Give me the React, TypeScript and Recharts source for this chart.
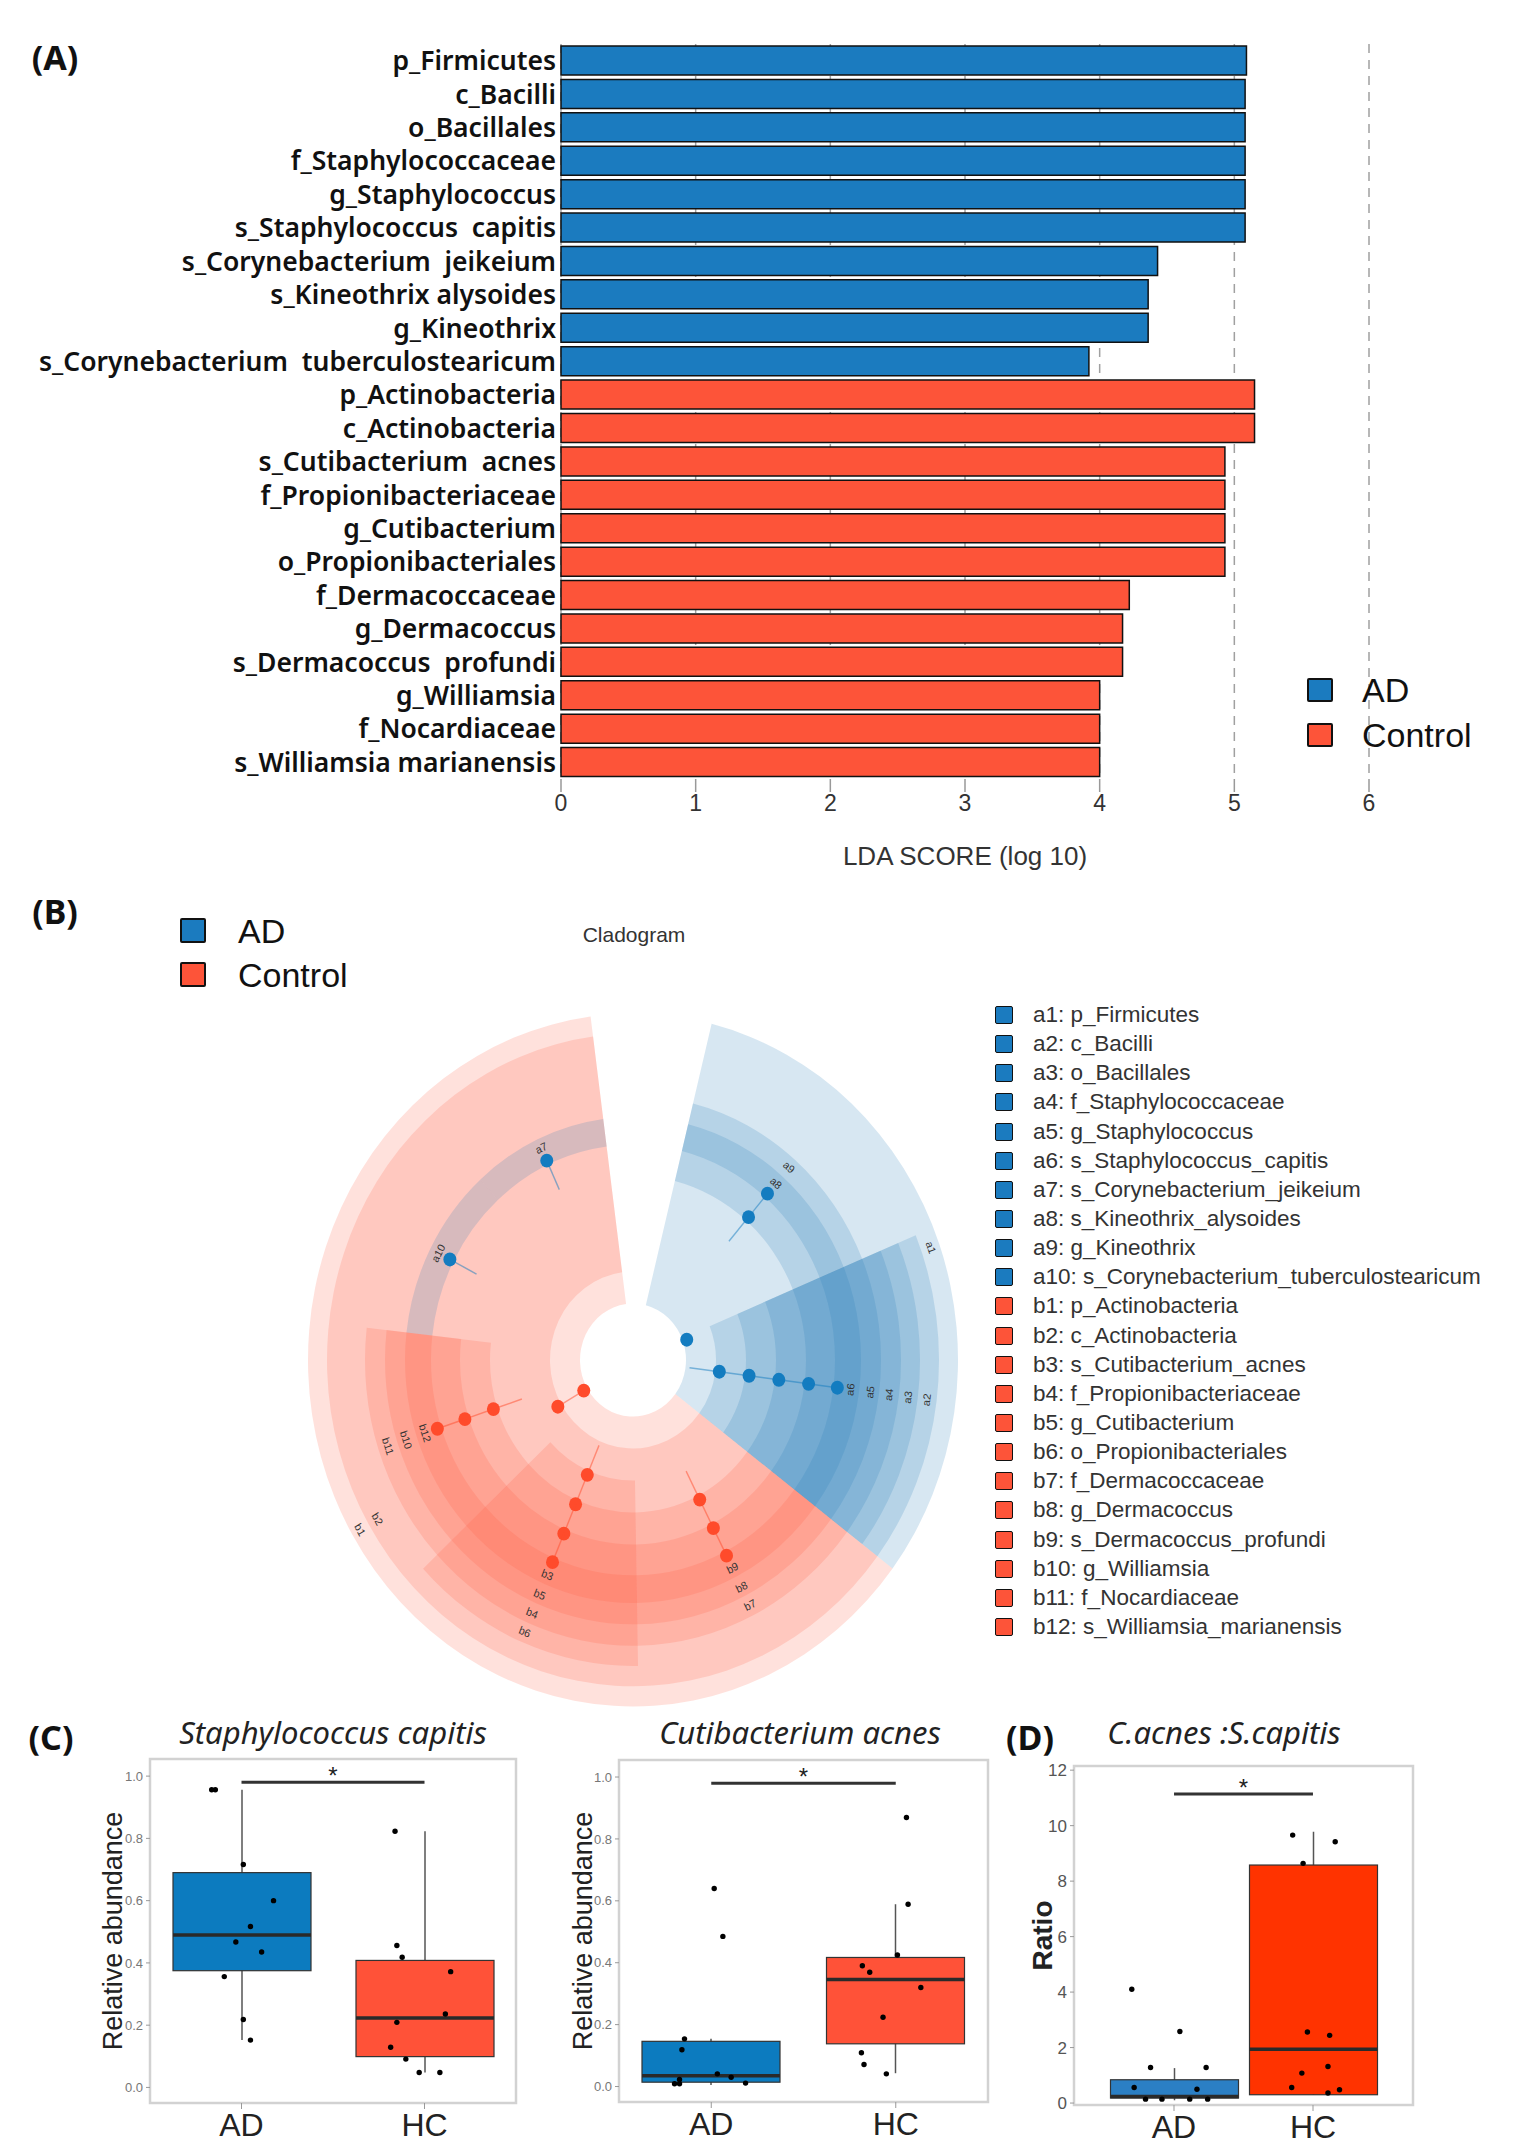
import React from 'react';
import {
  BarChart,
  Bar,
  XAxis,
  YAxis,
  CartesianGrid,
  Cell,
  PieChart,
  Pie,
  ComposedChart,
  Scatter,
  ReferenceLine,
  ReferenceArea,
} from 'recharts';

// ---------- (A) LEfSe LDA scores ----------
const taxa = [
  'p_Firmicutes', 'c_Bacilli', 'o_Bacillales', 'f_Staphylococcaceae', 'g_Staphylococcus',
  's_Staphylococcus  capitis', 's_Corynebacterium  jeikeium', 's_Kineothrix alysoides', 'g_Kineothrix',
  's_Corynebacterium  tuberculostearicum', 'p_Actinobacteria', 'c_Actinobacteria', 's_Cutibacterium  acnes',
  'f_Propionibacteriaceae', 'g_Cutibacterium', 'o_Propionibacteriales', 'f_Dermacoccaceae', 'g_Dermacoccus',
  's_Dermacoccus  profundi', 'g_Williamsia', 'f_Nocardiaceae', 's_Williamsia marianensis',
];
const ldaScores = [
  5.09, 5.08, 5.08, 5.08, 5.08, 5.08, 4.43, 4.36, 4.36, 3.92,
  5.15, 5.15, 4.93, 4.93, 4.93, 4.93, 4.22, 4.17, 4.17, 4.0, 4.0, 4.0,
];
const enrichedIn = [
  'AD', 'AD', 'AD', 'AD', 'AD', 'AD', 'AD', 'AD', 'AD', 'AD',
  'Control', 'Control', 'Control', 'Control', 'Control', 'Control',
  'Control', 'Control', 'Control', 'Control', 'Control', 'Control',
];
const ldaTicks = [0, 1, 2, 3, 4, 5, 6];

// ---------- (B) cladogram ----------
const cladeCodes = ['a1', 'a2', 'a3', 'a4', 'a5', 'a6', 'a7', 'a8', 'a9', 'a10',
  'b1', 'b2', 'b3', 'b4', 'b5', 'b6', 'b7', 'b8', 'b9', 'b10', 'b11', 'b12'];
const cladeNames = [
  'p_Firmicutes', 'c_Bacilli', 'o_Bacillales', 'f_Staphylococcaceae', 'g_Staphylococcus',
  's_Staphylococcus_capitis', 's_Corynebacterium_jeikeium', 's_Kineothrix_alysoides', 'g_Kineothrix',
  's_Corynebacterium_tuberculostearicum', 'p_Actinobacteria', 'c_Actinobacteria', 's_Cutibacterium_acnes',
  'f_Propionibacteriaceae', 'g_Cutibacterium', 'o_Propionibacteriales', 'f_Dermacoccaceae', 'g_Dermacoccus',
  's_Dermacoccus_profundi', 'g_Williamsia', 'f_Nocardiaceae', 's_Williamsia_marianensis',
];
// angular share of each clade per taxonomic level (clockwise from top, '' = not significant)
const phylumCodes = ['', 'a1', 'b1', ''];
const phylumSpans = [14, 113, 225.5, 7.5];
const classCodes = ['', 'a2', 'b2', ''];
const classSpans = [67.5, 59.5, 225.5, 7.5];
const orderCodes = ['', 'a3', '', 'b6', ''];
const orderSpans = [67.5, 59.5, 52, 48, 133];
const familyCodes = ['', 'a4', 'b7', 'b4', 'b11', ''];
const familySpans = [67.5, 59.5, 52, 48, 49.5, 83.5];
const genusCodes = ['', 'a9', 'a5', 'b8', 'b5', 'b10', ''];
const genusSpans = [14, 53.5, 59.5, 52, 48, 49.5, 83.5];
const speciesCodes = ['', 'a8', 'a6', 'b9', 'b3', 'b12', 'a10', 'a7', ''];
const speciesSpans = [14, 53.5, 59.5, 52, 48, 49.5, 41.5, 34.5, 7.5];

// ---------- (C)/(D) box plots ----------
const groups = ['AD', 'HC'];

const capitisQ1 = [0.375, 0.099];
const capitisMedian = [0.49, 0.223];
const capitisQ3 = [0.69, 0.408];
const capitisLow = [0.152, 0.048];
const capitisHigh = [0.956, 0.823];
const capitisAD = [0.956, 0.956, 0.716, 0.6, 0.517, 0.467, 0.435, 0.356, 0.218, 0.152];
const capitisADJitter = [-0.163, -0.143, 0.01, 0.175, 0.049, -0.031, 0.11, -0.094, 0.01, 0.049];
const capitisHC = [0.823, 0.456, 0.418, 0.372, 0.236, 0.209, 0.129, 0.091, 0.048, 0.048];
const capitisHCJitter = [-0.161, -0.151, -0.122, 0.143, 0.114, -0.151, -0.185, -0.102, -0.029, 0.084];

const acnesQ1 = [0.014, 0.138];
const acnesMedian = [0.035, 0.346];
const acnesQ3 = [0.146, 0.417];
const acnesLow = [0.005, 0.043];
const acnesHigh = [0.154, 0.589];
const acnesAD = [0.64, 0.485, 0.154, 0.119, 0.041, 0.03, 0.023, 0.009, 0.009, 0.011];
const acnesADJitter = [0.016, 0.063, -0.145, -0.159, 0.033, 0.108, -0.172, -0.172, -0.199, 0.186];
const acnesHC = [0.869, 0.589, 0.425, 0.39, 0.369, 0.32, 0.224, 0.109, 0.071, 0.041];
const acnesHCJitter = [0.058, 0.067, 0.009, -0.181, -0.141, 0.136, -0.069, -0.186, -0.172, -0.051];

const ratioQ1 = [0.18, 0.3];
const ratioMedian = [0.24, 1.94];
const ratioQ3 = [0.84, 8.58];
const ratioLow = [0.1, 0.3];
const ratioHigh = [1.26, 9.78];
const ratioAD = [4.1, 2.58, 1.28, 1.28, 0.56, 0.5, 0.14, 0.14, 0.14, 0.14];
const ratioADJitter = [-0.304, 0.042, -0.169, 0.231, -0.287, 0.165, -0.205, -0.087, 0.113, 0.242];
const ratioHC = [9.66, 9.42, 8.64, 2.56, 2.44, 1.32, 1.08, 0.56, 0.48, 0.36];
const ratioHCJitter = [-0.146, 0.16, -0.071, -0.04, 0.12, 0.108, -0.08, -0.153, 0.191, 0.108];

const abundanceTicks = [0, 0.2, 0.4, 0.6, 0.8, 1.0];
const ratioTicks = [0, 2, 4, 6, 8, 10, 12];

// colours
const AD_BLUE = '#1B7BBF';
const CTRL_RED = '#FD5439';
const SHADE_BLUE = '#1F7AB8';
const SHADE_RED = '#FF5A3C';
const DOT_BLUE = '#137CC0';
const DOT_RED = '#FF4B2B';

const RAD = Math.PI / 180;

// small helper for absolutely placed text
function Txt({ x, y, size, children, anchor = 'middle', weight = 400, italic = false, color = '#111', family }: any) {
  const tx = anchor === 'start' ? '0' : anchor === 'end' ? '-100%' : '-50%';
  return (
    <div
      style={{
        position: 'absolute',
        left: x,
        top: y,
        transform: `translate(${tx}, -50%)`,
        fontSize: size,
        fontWeight: weight,
        fontStyle: italic ? 'italic' : 'normal',
        color,
        whiteSpace: 'pre',
        lineHeight: 1,
        fontFamily: family,
      }}
    >
      {children}
    </div>
  );
}

function Swatch({ x, y, w, h, color, border = 2 }: any) {
  return (
    <div
      style={{
        position: 'absolute',
        left: x,
        top: y,
        width: w,
        height: h,
        boxSizing: 'border-box',
        background: color,
        border: `${border}px solid #111`,
        borderRadius: 2,
      }}
    />
  );
}

// y-axis labels of panel A
const TaxonTick = (props: any) => {
  const { x, y, payload } = props;
  return (
    <text
      x={x - 3}
      y={y}
      dy="0.36em"
      textAnchor="end"
      fontSize={26.5}
      fontWeight={600}
      fill="#111"
      fontFamily="Noto Sans"
      style={{ whiteSpace: 'pre' }}
    >
      {payload.value}
    </text>
  );
};

function LdaChart() {
  const rows = taxa.map((name, i) => ({ name, lda: ldaScores[i], group: enrichedIn[i] }));
  return (
    <div style={{ position: 'absolute', left: 0, top: 0 }}>
      <BarChart
        width={1521}
        height={900}
        data={rows}
        layout="vertical"
        margin={{ top: 44, right: 152, bottom: 31, left: 0 }}
        barCategoryGap="6%"
      >
        <CartesianGrid horizontal={false} stroke="#a0a0a0" strokeDasharray="9 7" strokeWidth={1.5} />
        <XAxis
          type="number"
          domain={[0, 6]}
          ticks={ldaTicks}
          axisLine={false}
          tickLine={{ stroke: '#999', strokeWidth: 1.5 }}
          tickSize={13}
          tickMargin={3}
          tick={{ fontSize: 23, fill: '#333' }}
          height={90}
          label={{ value: 'LDA SCORE (log 10)', position: 'insideBottom', offset: 4, fontSize: 26, fill: '#333' }}
        />
        <YAxis
          type="category"
          dataKey="name"
          width={561}
          axisLine={false}
          tickLine={false}
          tickSize={0}
          interval={0}
          tick={<TaxonTick />}
        />
        <Bar dataKey="lda" stroke="#111" strokeWidth={1.5} isAnimationActive={false}>
          {rows.map((r, i) => (
            <Cell key={`lda-${i}`} fill={r.group === 'AD' ? AD_BLUE : CTRL_RED} />
          ))}
        </Bar>
      </BarChart>
    </div>
  );
}

// ring geometry of the cladogram, one entry per taxonomic level
const rings = [
  { inner: 53, outer: 325, node: 57, label: 316 },
  { inner: 83, outer: 306, node: 87, label: 296 },
  { inner: 113, outer: 287, node: 117, label: 277 },
  { inner: 143, outer: 268, node: 147, label: 258 },
  { inner: 173, outer: 248, node: 177, label: 239 },
  { inner: 202, outer: 228, node: 206, label: 219 },
];

const levelCodes = [phylumCodes, classCodes, orderCodes, familyCodes, genusCodes, speciesCodes];
const levelSpans = [phylumSpans, classSpans, orderSpans, familySpans, genusSpans, speciesSpans];

const nodeLabel = (ring: any, level: number) => (props: any) => {
  const { cx, cy, midAngle } = props;
  const code = props.payload?.code ?? props.code;
  if (!code) return null;
  const color = code[0] === 'a' ? DOT_BLUE : DOT_RED;
  const pt = (r: number) => [cx + r * Math.cos(-midAngle * RAD), cy + r * Math.sin(-midAngle * RAD)];
  const [nx, ny] = pt(ring.node);
  const [px, py] = pt(ring.node - 30);
  const [lx, ly] = pt(ring.label);
  const cw = (90 - midAngle + 720) % 360;
  const rot = cw > 90 && cw < 270 ? cw - 180 : cw;
  return (
    <g>
      {level > 0 && <line x1={px} y1={py} x2={nx} y2={ny} stroke={color} strokeOpacity={0.5} strokeWidth={1.4} />}
      <circle cx={nx} cy={ny} r={6.5} fill={color} />
      <text
        x={lx}
        y={ly}
        dy="0.35em"
        textAnchor="middle"
        fontSize={10.5}
        fill="#333"
        transform={`rotate(${rot}, ${lx}, ${ly})`}
      >
        {code}
      </text>
    </g>
  );
};

function Cladogram() {
  return (
    <div
      style={{
        position: 'absolute',
        left: 283,
        top: 1010,
        width: 700,
        height: 700,
        transform: 'scaleY(1.066)',
        transformOrigin: '350px 350px',
      }}
    >
      <PieChart width={700} height={700} margin={{ top: 0, right: 0, bottom: 0, left: 0 }}>
        {rings.map((ring, lv) => {
          const data = levelCodes[lv].map((code, i) => ({ code, span: levelSpans[lv][i] }));
          return (
            <Pie
              key={`ring-${lv}`}
              data={data}
              dataKey="span"
              cx={350}
              cy={350}
              innerRadius={ring.inner}
              outerRadius={ring.outer}
              startAngle={90}
              endAngle={-270}
              stroke="none"
              isAnimationActive={false}
              labelLine={false}
              label={nodeLabel(ring, lv)}
            >
              {data.map((d, i) => (
                <Cell
                  key={`c-${lv}-${i}`}
                  fill={!d.code ? 'transparent' : d.code[0] === 'a' ? SHADE_BLUE : SHADE_RED}
                  fillOpacity={d.code ? 0.18 : 0}
                />
              ))}
            </Pie>
          );
        })}
      </PieChart>
    </div>
  );
}

const WhiskerShape = (p: any) => {
  const top = Math.min(p.y, p.y + p.height);
  const h = Math.abs(p.height);
  const cx = p.x + p.width / 2;
  return <line x1={cx} x2={cx} y1={top} y2={top + h} stroke="#555" strokeWidth={1.5} />;
};

const BoxShape = (p: any) => {
  const { x, y, width, height, payload } = p;
  const top = Math.min(y, y + height);
  const h = Math.abs(height);
  const my = top + (h * (payload.q3 - payload.median)) / (payload.q3 - payload.q1);
  return (
    <g>
      <rect x={x} y={top} width={width} height={h} fill={payload.color} stroke="#333" strokeWidth={1.2} />
      <line x1={x} x2={x + width} y1={my} y2={my} stroke="#2a2a2a" strokeWidth={3.5} />
    </g>
  );
};

const Dot = (p: any) => <circle cx={p.cx} cy={p.cy} r={2.7} fill="#000" />;

function BoxPanel(props: any) {
  const {
    left, top, width, height, margin, yAxisWidth, xAxisHeight, domain, ticks, tickFmt, yTick,
    q1, median, q3, low, high, ptsAD, jitAD, ptsHC, jitHC, colors, boxSize, xPad, ptsDomain, sigY,
    yTitle, yTitleOffset, yTitleSize, yTitleWeight,
  } = props;
  const rows = groups.map((g, i) => ({
    group: g,
    box: [q1[i], q3[i]],
    whisker: [low[i], high[i]],
    q1: q1[i],
    q3: q3[i],
    median: median[i],
    color: colors[i],
  }));
  const points = [
    ...ptsAD.map((y: number, i: number) => ({ x: 1 + jitAD[i], y })),
    ...ptsHC.map((y: number, i: number) => ({ x: 2 + jitHC[i], y })),
  ];
  return (
    <div style={{ position: 'absolute', left, top }}>
      <ComposedChart width={width} height={height} data={rows} margin={margin}>
        <XAxis
          xAxisId="box"
          dataKey="group"
          type="category"
          padding={{ left: xPad, right: xPad }}
          axisLine={false}
          tickLine={{ stroke: '#999' }}
          tickSize={6}
          tickMargin={4}
          height={xAxisHeight}
          tick={{ fontSize: 32, fill: '#222' }}
        />
        <XAxis xAxisId="wh" dataKey="group" type="category" padding={{ left: xPad, right: xPad }} hide />
        <XAxis xAxisId="pts" dataKey="x" type="number" domain={ptsDomain} allowDataOverflow hide />
        <YAxis
          domain={domain}
          ticks={ticks}
          allowDataOverflow
          width={yAxisWidth}
          axisLine={false}
          tickLine={{ stroke: '#999' }}
          tickSize={4}
          tickMargin={3}
          tickFormatter={tickFmt}
          tick={yTick}
          label={{
            value: yTitle,
            angle: -90,
            position: 'insideLeft',
            offset: yTitleOffset,
            style: { textAnchor: 'middle', fontSize: yTitleSize, fill: '#222', fontWeight: yTitleWeight },
          }}
        />
        <ReferenceArea
          xAxisId="pts"
          x1={ptsDomain[0]}
          x2={ptsDomain[1]}
          y1={domain[0]}
          y2={domain[1]}
          fill="none"
          stroke="#d2d2d2"
          strokeWidth={2.5}
          ifOverflow="visible"
        />
        <Bar xAxisId="wh" dataKey="whisker" barSize={boxSize} shape={WhiskerShape} isAnimationActive={false} />
        <Bar xAxisId="box" dataKey="box" barSize={boxSize} shape={BoxShape} isAnimationActive={false} />
        <Scatter xAxisId="pts" data={points} dataKey="y" shape={Dot} isAnimationActive={false} />
        <ReferenceLine
          xAxisId="pts"
          segment={[{ x: 1, y: sigY }, { x: 2, y: sigY }]}
          stroke="#333"
          strokeWidth={3}
          ifOverflow="visible"
          label={{ value: '*', position: 'top', fontSize: 24, fill: '#222', offset: -2 }}
        />
      </ComposedChart>
    </div>
  );
}

export default function App() {
  return (
    <div
      style={{
        position: 'absolute',
        left: 0,
        top: 0,
        width: 1521,
        height: 2155,
        background: '#fff',
        overflow: 'hidden',
        fontFamily: '"Liberation Sans", Arial, sans-serif',
      }}
    >
      {/* (A) */}
      <LdaChart />
      <Txt x={55} y={57} size={34} weight={700} family="Noto Sans">(A)</Txt>
      <Swatch x={1307} y={678} w={26} h={24} color={AD_BLUE} />
      <Txt x={1362} y={690} size={34} anchor="start">AD</Txt>
      <Swatch x={1307} y={723} w={26} h={24} color={CTRL_RED} />
      <Txt x={1362} y={735} size={34} anchor="start">Control</Txt>

      {/* (B) */}
      <Txt x={55} y={911} size={34} weight={700} family="Noto Sans">(B)</Txt>
      <Swatch x={180} y={918} w={26} h={25} color={AD_BLUE} />
      <Txt x={238} y={931} size={34} anchor="start">AD</Txt>
      <Swatch x={180} y={962} w={26} h={25} color={CTRL_RED} />
      <Txt x={238} y={975} size={34} anchor="start">Control</Txt>
      <Txt x={634} y={934} size={21} color="#333">Cladogram</Txt>
      <Cladogram />
      {cladeCodes.map((code, i) => (
        <React.Fragment key={code}>
          <Swatch
            x={995}
            y={1015 + i * 29.14 - 9}
            w={18}
            h={18}
            border={1.5}
            color={code[0] === 'a' ? AD_BLUE : CTRL_RED}
          />
          <Txt x={1033} y={1015 + i * 29.14} size={22.5} anchor="start" color="#333">
            {`${code}: ${cladeNames[i]}`}
          </Txt>
        </React.Fragment>
      ))}

      {/* (C) */}
      <Txt x={51} y={1737} size={34} weight={700} family="Noto Sans">(C)</Txt>
      <Txt x={333} y={1732} size={31} italic family="Noto Sans" color="#222">Staphylococcus capitis</Txt>
      <Txt x={800} y={1732} size={31} italic family="Noto Sans" color="#222">Cutibacterium acnes</Txt>
      <BoxPanel
        left={0}
        top={1740}
        width={540}
        height={415}
        margin={{ top: 19, right: 24, bottom: 0, left: 60 }}
        yAxisWidth={90}
        xAxisHeight={52}
        domain={[-0.05, 1.055]}
        ticks={abundanceTicks}
        tickFmt={(v: number) => v.toFixed(1)}
        yTick={{ fontSize: 13, fill: '#777' }}
        q1={capitisQ1}
        median={capitisMedian}
        q3={capitisQ3}
        low={capitisLow}
        high={capitisHigh}
        ptsAD={capitisAD}
        jitAD={capitisADJitter}
        ptsHC={capitisHC}
        jitHC={capitisHCJitter}
        colors={['#0C7BBF', '#FF5238']}
        boxSize={138}
        xPad={0}
        ptsDomain={[0.5, 2.5]}
        sigY={0.98}
        yTitle="Relative abundance"
        yTitleOffset={52}
        yTitleSize={27}
        yTitleWeight={400}
      />
      <BoxPanel
        left={500}
        top={1740}
        width={510}
        height={415}
        margin={{ top: 20, right: 22, bottom: 0, left: 29 }}
        yAxisWidth={90}
        xAxisHeight={53}
        domain={[-0.05, 1.055]}
        ticks={abundanceTicks}
        tickFmt={(v: number) => v.toFixed(1)}
        yTick={{ fontSize: 13, fill: '#777' }}
        q1={acnesQ1}
        median={acnesMedian}
        q3={acnesQ3}
        low={acnesLow}
        high={acnesHigh}
        ptsAD={acnesAD}
        jitAD={acnesADJitter}
        ptsHC={acnesHC}
        jitHC={acnesHCJitter}
        colors={['#0C7BBF', '#FF5238']}
        boxSize={138}
        xPad={0}
        ptsDomain={[0.5, 2.5]}
        sigY={0.98}
        yTitle="Relative abundance"
        yTitleOffset={53}
        yTitleSize={27}
        yTitleWeight={400}
      />

      {/* (D) */}
      <Txt x={1030} y={1737} size={34} weight={700} family="Noto Sans">(D)</Txt>
      <Txt x={1224} y={1732} size={31} italic family="Noto Sans" color="#222">C.acnes :S.capitis</Txt>
      <BoxPanel
        left={990}
        top={1740}
        width={531}
        height={415}
        margin={{ top: 26, right: 108, bottom: 0, left: 24 }}
        yAxisWidth={60}
        xAxisHeight={50}
        domain={[-0.07, 12.15]}
        ticks={ratioTicks}
        tickFmt={(v: number) => String(v)}
        yTick={{ fontSize: 17, fill: '#555' }}
        q1={ratioQ1}
        median={ratioMedian}
        q3={ratioQ3}
        low={ratioLow}
        high={ratioHigh}
        ptsAD={ratioAD}
        jitAD={ratioADJitter}
        ptsHC={ratioHC}
        jitHC={ratioHCJitter}
        colors={['#2B7FC4', '#FF3300']}
        boxSize={128}
        xPad={30.5}
        ptsDomain={[0.28, 2.72]}
        sigY={11.14}
        yTitle="Ratio"
        yTitleOffset={28}
        yTitleSize={28}
        yTitleWeight={600}
      />
    </div>
  );
}
